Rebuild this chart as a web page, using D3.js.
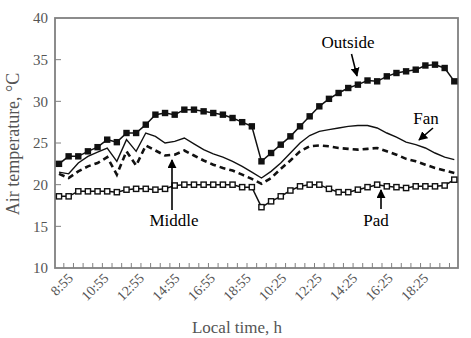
<!DOCTYPE html>
<html><head><meta charset="utf-8">
<script src="https://cdn.jsdelivr.net/npm/d3@7"></script>
<style>
body{margin:0;background:#fff;}
svg{display:block;font-family:"Liberation Serif","Times New Roman",serif;}
</style></head>
<body><svg id="c" width="471" height="338"></svg>
<script>
// ---- data ----
const xTickLabels = ["8:55","10:55","12:55","14:55","16:55","18:55","10:25","12:25","14:25","16:25","18:25"];
const yTicks = [10,15,20,25,30,35,40];
const outside = [22.5,23.4,23.4,24.0,24.5,25.4,25.1,26.2,26.2,27.2,28.4,28.6,28.4,29.0,29.0,28.8,28.6,28.4,28.0,27.5,27.0,
                 22.8,23.8,24.8,25.8,27.0,28.2,29.4,30.3,31.0,31.6,32.0,32.5,32.4,33.0,33.4,33.6,33.8,34.3,34.4,34.0,32.4];
const fan =     [21.5,21.3,22.6,23.4,23.9,24.4,22.8,25.4,24.0,26.2,25.8,25.0,25.2,25.6,24.9,24.2,23.7,23.3,22.8,22.2,21.5,
                 20.8,21.6,22.6,23.8,25.0,25.9,26.4,26.6,26.8,27.0,27.1,27.1,26.8,26.2,25.7,25.1,24.8,24.4,23.8,23.3,23.0];
const middle =  [21.3,20.8,21.6,22.2,22.6,23.3,21.2,24.0,22.3,24.7,24.1,23.5,23.6,24.1,23.5,22.9,22.4,22.0,21.7,21.2,20.7,
                 20.1,20.8,21.9,22.9,24.0,24.6,24.7,24.6,24.4,24.3,24.2,24.3,24.4,24.0,23.6,23.1,22.8,22.4,22.0,21.7,21.4];
const pad =     [18.6,18.6,19.2,19.2,19.2,19.2,19.1,19.4,19.5,19.5,19.4,19.5,19.9,20.0,20.0,20.0,20.0,20.0,20.0,19.7,19.7,
                 17.3,18.0,18.6,19.3,19.8,20.0,20.0,19.5,19.1,19.1,19.4,19.7,20.0,19.8,19.7,19.6,19.8,19.8,19.8,19.9,20.6];

// ---- layout ----
const svg = d3.select("#c");
const L = 55, R = 458, T = 18, B = 268;
const n = outside.length;
const x = d3.scaleLinear().domain([0, n-1]).range([59, 454.3]);
const y = d3.scaleLinear().domain([10, 40]).range([B, T]);
const axisCol = "#808080", textCol = "#555";

// frame
svg.append("rect").attr("x", L).attr("y", T).attr("width", R-L).attr("height", B-T)
  .attr("fill", "none").attr("stroke", axisCol).attr("stroke-width", 1.8);

// x minor ticks (inward)
const xt = d3.range(n-1).map(i => i + 0.5);
svg.append("g").selectAll("line").data(xt).join("line")
  .attr("x1", d => x(d)).attr("x2", d => x(d)).attr("y1", B).attr("y2", B-5)
  .attr("stroke", axisCol).attr("stroke-width", 1);

// y ticks
svg.append("g").selectAll("line").data(yTicks.slice(1,-1)).join("line")
  .attr("x1", L).attr("x2", L+6).attr("y1", d => y(d)).attr("y2", d => y(d))
  .attr("stroke", axisCol).attr("stroke-width", 1);
svg.append("g").selectAll("text").data(yTicks).join("text")
  .attr("x", L-7).attr("y", d => y(d)).attr("dy", "0.35em").attr("text-anchor", "end")
  .attr("font-size", 15).attr("fill", textCol).text(d => d);

// x tick labels
const xl = d3.scalePoint().domain(xTickLabels).range([x(1.55), x(38.4)]);
svg.append("g").selectAll("text").data(xTickLabels).join("text")
  .attr("transform", d => `translate(${xl(d)},${B+11}) rotate(-45)`)
  .attr("text-anchor", "end").attr("font-size", 14).attr("fill", textCol).text(d => d);

// axis titles
svg.append("text").attr("x", 237).attr("y", 333).attr("text-anchor", "middle")
  .attr("font-size", 17).attr("fill", textCol).text("Local time, h");
svg.append("text").attr("transform", `translate(19,${(T+B)/2+1}) rotate(-90)`).attr("text-anchor", "middle")
  .attr("font-size", 18).attr("fill", textCol).text("Air temperature, °C");

// lines
const line = d3.line().x((d,i) => x(i)).y(d => y(d));
svg.append("path").datum(pad).attr("d", line).attr("fill","none").attr("stroke","#111").attr("stroke-width",1.5);
svg.append("path").datum(middle).attr("d", line).attr("fill","none").attr("stroke","#111").attr("stroke-width",2.6)
  .attr("stroke-dasharray","6,4");
svg.append("path").datum(fan).attr("d", line).attr("fill","none").attr("stroke","#111").attr("stroke-width",1.4);
svg.append("path").datum(outside).attr("d", line).attr("fill","none").attr("stroke","#111").attr("stroke-width",1.5);

// markers
svg.append("g").selectAll("rect").data(outside).join("rect")
  .attr("x", (d,i) => x(i)-3.2).attr("y", d => y(d)-3.2).attr("width", 6.4).attr("height", 6.4).attr("fill", "#111");
svg.append("g").selectAll("rect").data(pad).join("rect")
  .attr("x", (d,i) => x(i)-2.6).attr("y", d => y(d)-2.6).attr("width", 5.2).attr("height", 5.2)
  .attr("fill", "#fff").attr("stroke", "#111").attr("stroke-width", 1.4);

// annotations
const defs = svg.append("defs");
defs.append("marker").attr("id","ah").attr("viewBox","0 0 10 10").attr("refX",9).attr("refY",5)
  .attr("markerWidth",9).attr("markerHeight",9).attr("markerUnits","userSpaceOnUse").attr("orient","auto")
  .append("path").attr("d","M0,0 L10,5 L0,10 Z").attr("fill","#000");
const notes = [
  {t:"Outside", tx:348, ty:48, a:[351.5,54,357,76]},
  {t:"Fan", tx:426, ty:124, a:[433,128,419,140]},
  {t:"Middle", tx:174, ty:226, a:[172,210,172,160]},
  {t:"Pad", tx:376, ty:226, a:[381,209,381,190]}
];
const g = svg.append("g");
g.selectAll("text").data(notes).join("text").attr("x", d=>d.tx).attr("y", d=>d.ty)
  .attr("text-anchor","middle").attr("font-size",17).attr("fill","#000").text(d=>d.t);
g.selectAll("line").data(notes).join("line")
  .attr("x1",d=>d.a[0]).attr("y1",d=>d.a[1]).attr("x2",d=>d.a[2]).attr("y2",d=>d.a[3])
  .attr("stroke","#000").attr("stroke-width",1.6).attr("marker-end","url(#ah)");
</script></body></html>
